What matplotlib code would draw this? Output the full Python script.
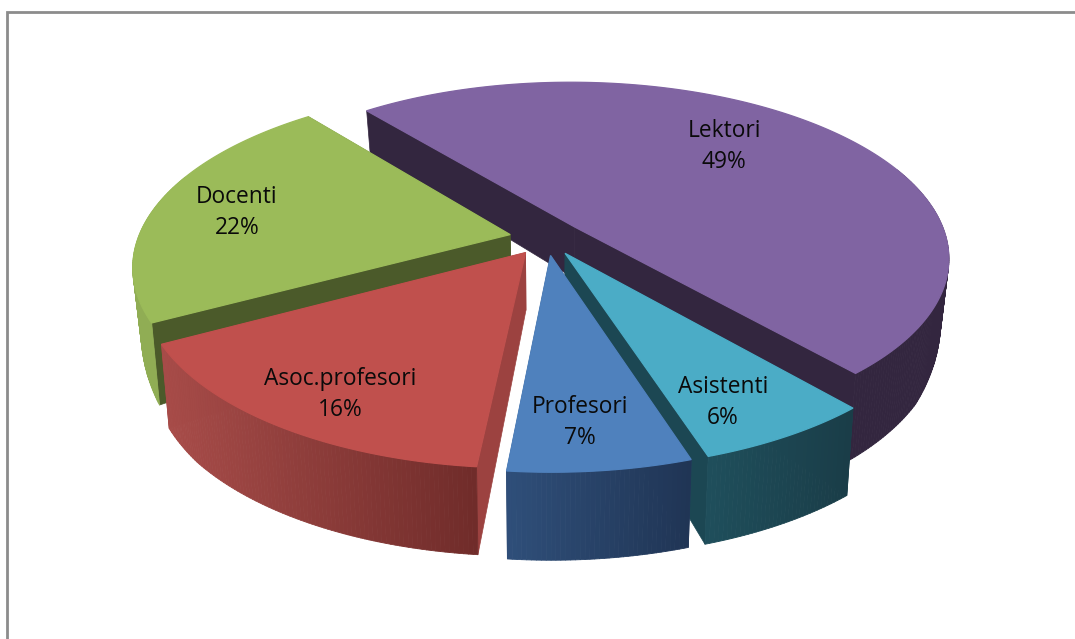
import numpy as np
import matplotlib
matplotlib.use("Agg")
import matplotlib.pyplot as plt
from matplotlib.colors import to_rgb
from matplotlib.collections import PolyCollection

# data (clockwise, starting at the Lektori/Asistenti boundary)
categories = ["Asistenti", "Profesori", "Asoc.profesori", "Docenti", "Lektori"]
values = [6.4, 6.55, 15.6, 22.0, 49.45]
percent_labels = ["6%", "7%", "16%", "22%", "49%"]

# style
top_colors = ["#4bacc6", "#4f81bd", "#c0504d", "#9bbb59", "#8064a2"]
side_left = ["#1f4f5c", "#2f4f7a", "#a84c49", "#90ad54", "#33263f"]
side_right = ["#1a3d48", "#203555", "#702c2a", "#90ad54", "#33263f"]
inner_colors = ["#1c4753", "#2a4468", "#9c4240", "#4b5a2a", "#33263f"]
draw_order = ["Lektori", "Docenti", "Asistenti", "Asoc.profesori", "Profesori"]
label_xy = {"Asistenti": (723, 386), "Profesori": (580, 406),
            "Asoc.profesori": (340, 378), "Docenti": (237, 196), "Lektori": (724, 130)}
LINE_GAP = 31

# projection parameters (pixels)
CX, CY, A, B, K = 546.5, 238, 372, 173, 0.171
DEPTH_V = [-1.1, -0.7, -0.45, 0.0, 1.1]
DEPTH_PX = [88, 87, 82, 52, 41]
SHRINK = 0.98
START_DEG, EXPLODE = 139, 0.10


def top_xy(u, v):
    w = 1 + K * v
    return CX + A * u / w, CY - B * v / w


def bottom_xy(u, v):
    x, y = top_xy(u, v)
    return CX + (x - CX) * SHRINK, y + np.interp(v, DEPTH_V, DEPTH_PX)


def mix(c1, c2, t):
    c1, c2 = np.array(to_rgb(c1)), np.array(to_rgb(c2))
    return tuple(c1 + (c2 - c1) * t)


fig = plt.figure(figsize=(10.75, 6.39), dpi=100, facecolor="white")
ax = fig.add_axes([0, 0, 1, 1])
ax.set_xlim(0, 1075)
ax.set_ylim(639, 0)
ax.axis("off")

ax.plot([7, 7, 1075], [639, 11.5, 11.5], color="#8c8c8c", lw=2.0, solid_joinstyle="miter", zorder=0)

vals = np.array(values, dtype=float)
edges = START_DEG + np.concatenate([[0], np.cumsum(vals)]) * 360 / vals.sum()

for name in draw_order:
    i = categories.index(name)
    a0, a1 = np.radians(edges[i]), np.radians(edges[i + 1])
    mid = (a0 + a1) / 2
    ou, ov = EXPLODE * np.sin(mid), EXPLODE * np.cos(mid)
    th = np.linspace(a0, a1, max(8, int(values[i] * 6)))
    us, vs = ou + np.sin(th), ov + np.cos(th)

    # inner faces
    for a in (a0, a1):
        eu, ev = ou + np.sin(a), ov + np.cos(a)
        quad = [top_xy(ou, ov), top_xy(eu, ev), bottom_xy(eu, ev), bottom_xy(ou, ov)]
        ax.fill(*zip(*quad), facecolor=inner_colors[i], edgecolor=inner_colors[i], lw=0.5, zorder=2)

    # outer wall, shaded along its length
    polys, cols = [], []
    xs_front = [top_xy(u, v)[0] for u, v in zip(us, vs)]
    xmin, xmax = min(xs_front), max(xs_front)
    for j in range(len(th) - 1):
        if np.cos(th[j]) > 0.35 and np.cos(th[j + 1]) > 0.35:
            continue
        p = [top_xy(us[j], vs[j]), top_xy(us[j + 1], vs[j + 1]),
             bottom_xy(us[j + 1], vs[j + 1]), bottom_xy(us[j], vs[j])]
        polys.append(p)
        t = (xs_front[j] - xmin) / max(xmax - xmin, 1)
        cols.append(mix(side_left[i], side_right[i], t))
    ax.add_collection(PolyCollection(polys, facecolors=cols, edgecolors=cols, linewidths=0.6, zorder=2))

    # top
    outline = [top_xy(ou, ov)] + [top_xy(u, v) for u, v in zip(us, vs)]
    ax.fill(*zip(*outline), facecolor=top_colors[i], edgecolor=top_colors[i], lw=0.9, zorder=2)

    lx, ly = label_xy[name]
    ax.text(lx, ly + 1, name, ha="center", va="center", fontsize=16.4, family="Open Sans", color="#0a0a0a", zorder=3)
    ax.text(lx, ly + 1 + LINE_GAP, percent_labels[i], ha="center", va="center", fontsize=16.4,
            family="Open Sans", color="#0a0a0a", zorder=3)

fig.savefig("out.png", dpi=100, facecolor="white")
